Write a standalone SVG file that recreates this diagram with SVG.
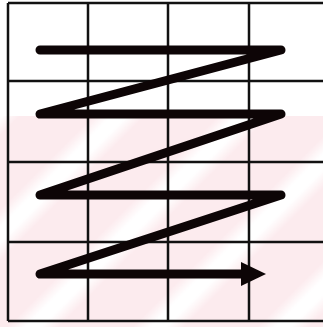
<svg xmlns="http://www.w3.org/2000/svg" width="323" height="327" viewBox="0 0 323 327">
  <defs>
    <linearGradient id="wband" x1="0" y1="0" x2="1" y2="0">
      <stop offset="0" stop-color="#fcebee"/>
      <stop offset="0.35" stop-color="#ffffff"/>
      <stop offset="0.65" stop-color="#ffffff"/>
      <stop offset="1" stop-color="#fcebee"/>
    </linearGradient>
    <pattern id="stripes" patternUnits="userSpaceOnUse" width="88.4" height="20" patternTransform="rotate(45) translate(33.6,0)">
      <rect x="0" y="0" width="88.4" height="20" fill="#fcebee"/>
      <rect x="26" y="0" width="36.4" height="20" fill="url(#wband)"/>
    </pattern>
    <style>
      .grid { stroke: #111; stroke-width: 2.5; fill: none; }
      .zig { stroke: #0d0506; stroke-width: 9; fill: none; stroke-linecap: round; stroke-linejoin: round; }
    </style>
  </defs>
  <rect x="0" y="0" width="323" height="327" fill="#ffffff"/>
  <rect id="band" x="0" y="116" width="323" height="211" fill="url(#stripes)"/>
  <g id="grid" class="grid">
    <line x1="8" y1="3" x2="323" y2="3"/>
    <line x1="8" y1="81" x2="323" y2="81"/>
    <line x1="8" y1="162" x2="323" y2="162"/>
    <line x1="8" y1="242" x2="323" y2="242"/>
    <line x1="8" y1="321" x2="323" y2="321"/>
    <line x1="8" y1="3" x2="8" y2="321"/>
    <line x1="88" y1="3" x2="88" y2="321"/>
    <line x1="168" y1="3" x2="168" y2="321"/>
    <line x1="249" y1="3" x2="249" y2="321"/>
  </g>
  <g id="connectors">
    <polyline class="zig" points="40,50 281,50 40,114 281,114 40,195 281,195 40,274 244,274"/>
    <polygon points="241,262 266,274 241,286" fill="#0d0506"/>
  </g>
</svg>
